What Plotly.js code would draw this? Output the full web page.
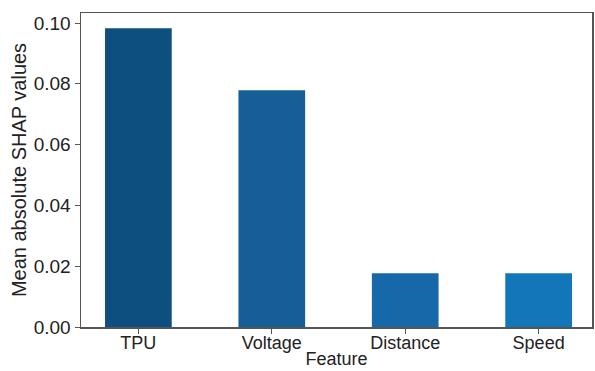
<!DOCTYPE html>
<html>
<head>
<meta charset="utf-8">
<script src="https://cdn.plot.ly/plotly-3.0.1.min.js"></script>
<style>
  html, body { margin: 0; padding: 0; background: #fff; }
  #chart { width: 595px; height: 371px; }
</style>
</head>
<body>
<div id="chart"></div>
<script>
// Feature importance: mean absolute SHAP value per input feature
const features = ["TPU", "Voltage", "Distance", "Speed"];
const meanAbsShap = [0.0983, 0.0779, 0.0177, 0.0177];
const barColors = ["#0d4f7f", "#155f96", "#1668a8", "#1376b9"];
const yTickVals = [0, 0.02, 0.04, 0.06, 0.08, 0.10];
const yTickText = ["0.00", "0.02", "0.04", "0.06", "0.08", "0.10"];

const axisColor = "#555555";
const font = { family: "Liberation Sans, Arial, sans-serif", size: 19, color: "#222222" };

const trace = {
  type: "bar",
  x: features.map((_, i) => i),
  y: meanAbsShap,
  width: 0.5,
  marker: { color: barColors, line: { width: 0 } },
  hoverinfo: "x+y"
};

const layout = {
  width: 595,
  height: 371,
  margin: { l: 81, r: 3, t: 13, b: 44 },
  paper_bgcolor: "#ffffff",
  plot_bgcolor: "#ffffff",
  font: font,
  showlegend: false,
  xaxis: {
    range: [-0.43, 3.4],
    tickvals: features.map((_, i) => i),
    ticktext: features,
    ticks: "outside",
    ticklen: 5,
    tickwidth: 1,
    tickcolor: axisColor,
    showline: true,
    linecolor: axisColor,
    linewidth: 1.5,
    mirror: true,
    showgrid: false,
    zeroline: false,
    ticklabelstandoff: -6,
    tickfont: { size: 18 },
    title: { text: "Feature", font: { size: 18 }, standoff: 0 }
  },
  yaxis: {
    range: [0, 0.1033],
    tickvals: yTickVals,
    ticktext: yTickText,
    ticks: "outside",
    ticklen: 5,
    tickwidth: 1,
    tickcolor: axisColor,
    showline: true,
    linecolor: axisColor,
    linewidth: 1.5,
    mirror: true,
    showgrid: false,
    zeroline: false,
    tickfont: { size: 19 },
    title: { text: "Mean absolute SHAP values", font: { size: 20 }, standoff: 1 }
  }
};

Plotly.newPlot("chart", [trace], layout, { displayModeBar: false, staticPlot: true });
</script>
</body>
</html>
